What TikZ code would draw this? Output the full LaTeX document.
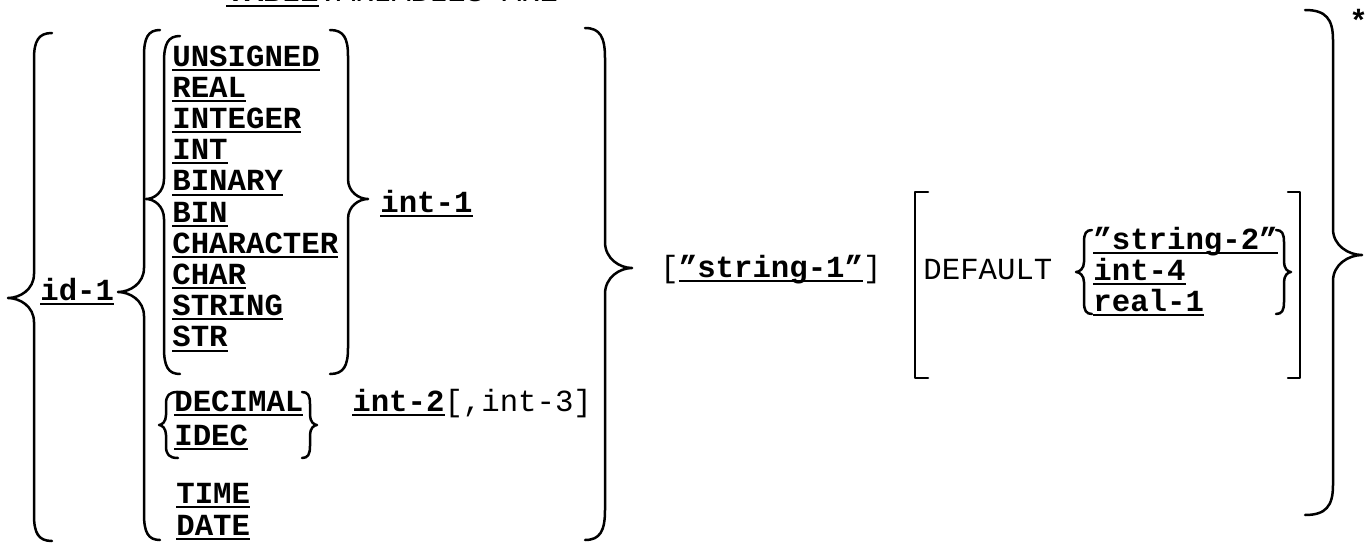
\documentclass[tikz,border=0pt]{standalone}
\usepackage{fontspec}
\setmainfont{Liberation Mono}
\newcommand\tyul[1]{\setbox0\hbox{#1}\rlap{\rule[-2.4pt]{\wd0}{1pt}}\box0}
\newcommand\kw[1]{\tyul{\bfseries #1}}
\newcommand\brc[8]{% hook x, line x, tip x, top y, mid y, bot y, end length, tip length
\draw[brcline] (#1,#4) .. controls ({#2+(#1-#2)*0.25},#4) and (#2,{#4+#7*0.3}) .. (#2,{#4+#7})
 -- (#2,{#5-#8}) .. controls (#2,{#5-#8*0.35}) and ({#3+(#2-#3)*0.45},#5) .. (#3,#5)
 .. controls ({#3+(#2-#3)*0.45},#5) and (#2,{#5+#8*0.35}) .. (#2,{#5+#8})
 -- (#2,{#6-#7}) .. controls (#2,{#6-#7*0.3}) and ({#2+(#1-#2)*0.25},#6) .. (#1,#6);}
\tikzset{
  brcline/.style={line width=1.25pt, line cap=round, line join=round},
  txt/.style={inner sep=0pt, anchor=base west, font=\fontsize{15.35}{15.4}\selectfont},
}
\begin{document}
\begin{tikzpicture}[x=0.5pt,y=-0.5pt]
\useasboundingbox (0,0) rectangle (1371,546);
% clipped header line
\begin{scope}
\clip (0,0) rectangle (1371,6);
\node[txt] (hdr) at (226,2) {\kw{TABLE} VARIABLES ARE};
\end{scope}
% outer left brace
\brc{52}{34}{8}{33}{298}{541}{26}{24}
\node[txt] (id) at (40,300) {\kw{id-1}};
% second brace
\brc{160}{144}{118}{30}{292}{540}{26}{24}
% type list brace
\brc{180}{164}{146}{36}{199}{374}{26}{20}
\foreach \w [count=\i from 0] in {UNSIGNED,REAL,INTEGER,INT,BINARY,BIN,CHARACTER,CHAR,STRING,STR}
  \node[txt] (t\i) at (172,{66+31.2*\i}) {\kw{\w}};
\brc{330}{348}{368}{30}{199}{374}{26}{20}
\node[txt] (i1) at (380,212) {\kw{int-1}};
% decimal group
\brc{178}{166}{159}{392}{425}{458}{12}{10}
\node[txt] (dec) at (174,411) {\kw{DECIMAL}};
\node[txt] (idec) at (174,445) {\kw{IDEC}};
\brc{302}{310}{317}{392}{425}{458}{12}{10}
\node[txt] (i2) at (352,411) {\kw{int-2}[,int-3]};
\node[txt] (time) at (176,503) {\kw{TIME}};
\node[txt] (date) at (176,535) {\kw{DATE}};
% big middle brace
\brc{585}{605}{632}{28}{268}{540}{30}{26}
\node[txt] (s1) at (660,277) {[\kw{"string-1"}]};
% default bracket
\draw[brcline] (928,192) -- (915,192) -- (915,378) -- (928,378);
\draw[brcline] (1288,192) -- (1300,192) -- (1300,378) -- (1288,378);
\node[txt] (def) at (923,279) {DEFAULT};
\brc{1092}{1084}{1076}{230}{272}{314}{12}{10}
\node[txt] (s2) at (1093,249) {\kw{"string-2"}};
\node[txt] (i4) at (1093,280) {\kw{int-4}};
\node[txt] (r1) at (1093,311) {\kw{real-1}};
\brc{1276}{1284}{1291}{230}{272}{314}{12}{10}
% far right brace
\brc{1305}{1333}{1362}{10}{255}{515}{30}{26}
\node[txt] (ast) at (1349,32) {\bfseries *};
\end{tikzpicture}
\end{document}
